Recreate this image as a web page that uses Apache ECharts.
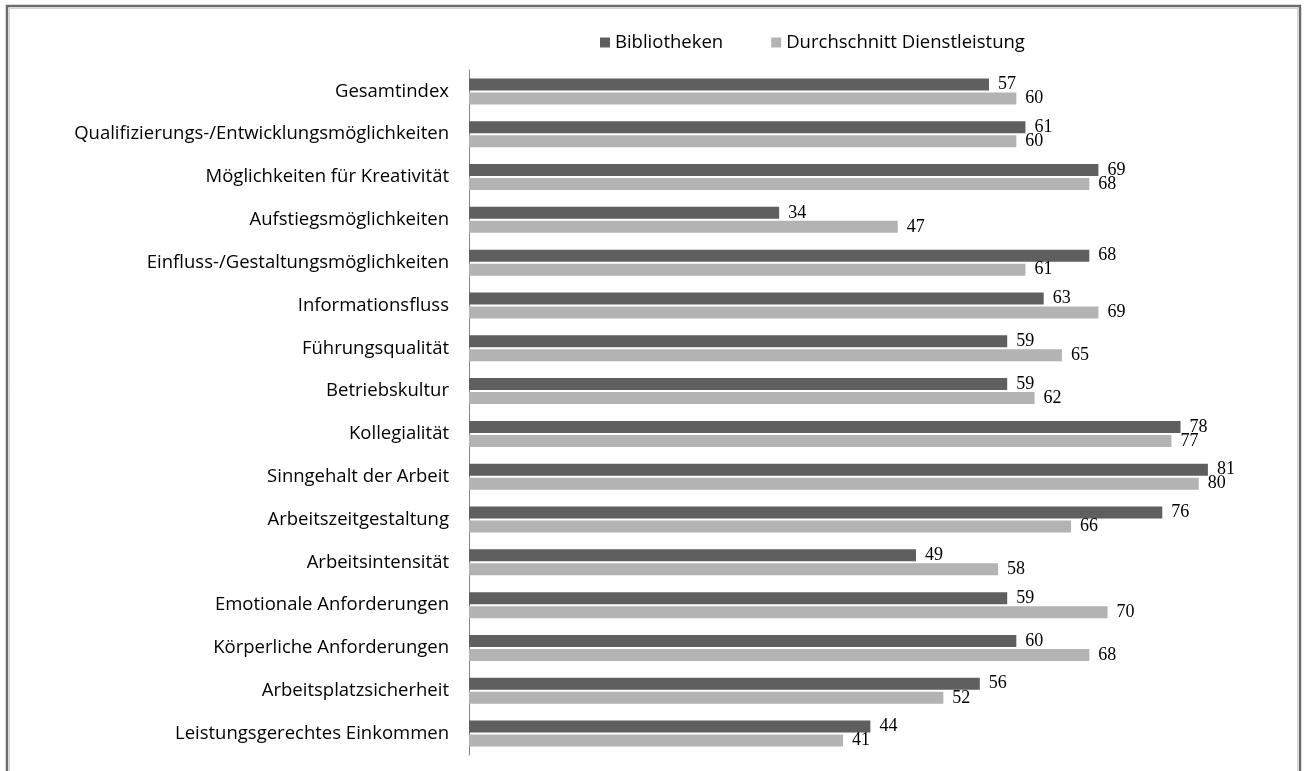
<!DOCTYPE html>
<html>
<head>
<meta charset="utf-8">
<script src="https://cdn.jsdelivr.net/npm/echarts@6/dist/echarts.min.js"></script>
<style>
  html, body { margin: 0; padding: 0; background: #ffffff; }
  #chart { width: 1304px; height: 771px; }
</style>
</head>
<body>
<div id="chart"></div>
<script>
// Arbeitsbedingungen: Bibliotheken im Vergleich zum Durchschnitt der Dienstleistungsbranche
const categories = [
  'Gesamtindex',
  'Qualifizierungs-/Entwicklungsmöglichkeiten',
  'Möglichkeiten für Kreativität',
  'Aufstiegsmöglichkeiten',
  'Einfluss-/Gestaltungsmöglichkeiten',
  'Informationsfluss',
  'Führungsqualität',
  'Betriebskultur',
  'Kollegialität',
  'Sinngehalt der Arbeit',
  'Arbeitszeitgestaltung',
  'Arbeitsintensität',
  'Emotionale Anforderungen',
  'Körperliche Anforderungen',
  'Arbeitsplatzsicherheit',
  'Leistungsgerechtes Einkommen'
];

const bibliotheken = [57, 61, 69, 34, 68, 63, 59, 59, 78, 81, 76, 49, 59, 60, 56, 44];
const durchschnitt = [60, 60, 68, 47, 61, 69, 65, 62, 77, 80, 66, 58, 70, 68, 52, 41];

const seriesNames = ['Bibliotheken', 'Durchschnitt Dienstleistung'];

const chart = echarts.init(document.getElementById('chart'), null, { renderer: 'canvas' });

const labelFont = '"Open Sans", "Noto Sans", sans-serif';
const valueFont = '"Liberation Serif", "DejaVu Serif", serif';

function valueLabel() {
  return {
    show: true,
    position: 'right',
    distance: 9,
    color: '#000000',
    fontFamily: valueFont,
    fontSize: 18
  };
}

chart.setOption({
  animation: false,
  backgroundColor: '#ffffff',
  graphic: [
    {
      type: 'rect',
      shape: { x: 7, y: 6, width: 1293, height: 900 },
      style: { fill: 'none', stroke: '#6c6c6c', lineWidth: 2.5 },
      silent: true
    },
    {
      type: 'rect',
      shape: { x: 9.5, y: 8.5, width: 1288, height: 900 },
      style: { fill: 'none', stroke: '#d4d4d4', lineWidth: 1 },
      silent: true
    }
  ],
  legend: {
    left: 595,
    top: 28,
    itemWidth: 10,
    itemHeight: 10,
    itemGap: 48,
    icon: 'rect',
    textStyle: { fontFamily: labelFont, fontSize: 18.5, color: '#000000' },
    data: seriesNames
  },
  grid: {
    left: 469,
    right: 14,
    top: 70,
    bottom: 16,
    containLabel: false
  },
  xAxis: {
    type: 'value',
    min: 0,
    max: 90,
    axisLine: { show: false },
    axisTick: { show: false },
    axisLabel: { show: false },
    splitLine: { show: false }
  },
  yAxis: {
    type: 'category',
    inverse: true,
    data: categories,
    axisLine: { show: true, lineStyle: { color: '#868686', width: 1 } },
    axisTick: { show: false },
    axisLabel: {
      margin: 20,
      color: '#000000',
      fontFamily: labelFont,
      fontSize: 18.5
    }
  },
  series: [
    {
      name: seriesNames[0],
      type: 'bar',
      data: bibliotheken,
      barWidth: 12,
      barGap: '17%',
      itemStyle: { color: '#5f5f5f' },
      label: valueLabel()
    },
    {
      name: seriesNames[1],
      type: 'bar',
      data: durchschnitt,
      barWidth: 12,
      barGap: '17%',
      itemStyle: { color: '#b3b3b3' },
      label: valueLabel()
    }
  ]
});
</script>
</body>
</html>
